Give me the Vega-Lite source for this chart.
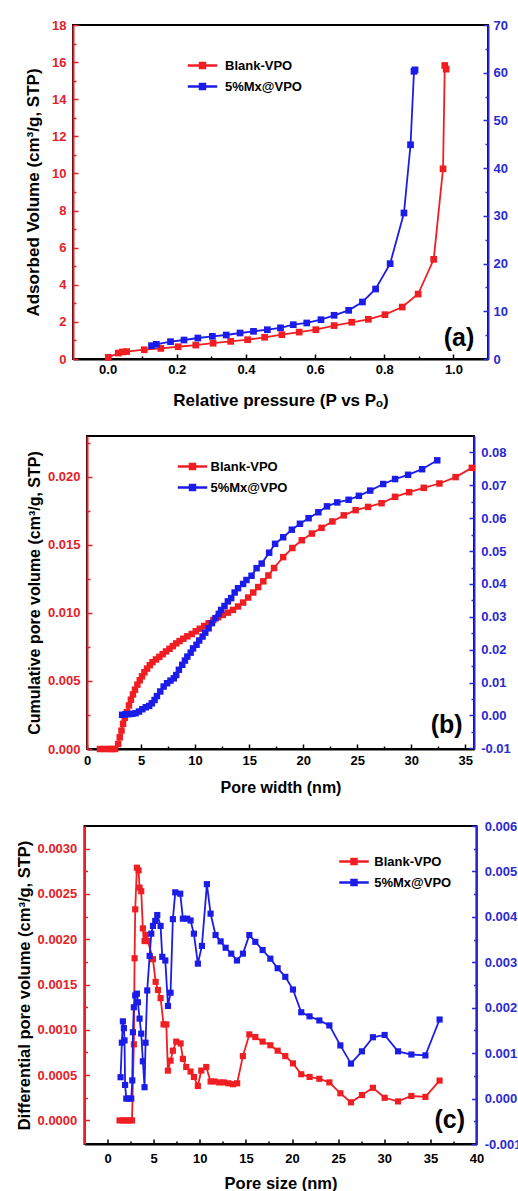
{
  "$schema": "https://vega.github.io/schema/vega-lite/v6.json",
  "padding": {"left": 15, "top": 18, "right": 0, "bottom": 0},
  "config": {
    "font": "Liberation Sans",
    "view": {"stroke": "#000", "strokeWidth": 2},
    "axis": {"grid": false, "labelFont": "Liberation Sans", "labelFontWeight": "bold", "labelFontSize": 13, "titleFont": "Liberation Sans", "titleFontWeight": "bold", "domainWidth": 2, "tickWidth": 1.5, "labelColor": "#000", "titleColor": "#000", "domainColor": "#000", "tickColor": "#000", "labelOverlap": false, "labelFlush": false},
    "legend": {"orient": "none", "title": null, "symbolType": "M-2.9,-0.2H2.9V0.2H-2.9Z M-0.7,-0.7H0.7V0.7H-0.7Z", "symbolSize": 100, "symbolStrokeWidth": 0.5, "labelFont": "Liberation Sans", "labelFontSize": 13, "labelFontWeight": "bold", "labelColor": "#000", "padding": 0, "rowPadding": 7}
  },
  "columns": 1,
  "bounds": "flush",
  "center": true,
  "spacing": 77,
  "resolve": {"scale": {"color": "independent"}, "legend": {"color": "independent"}},
  "datasets": {
    "a": [
      {"s": "Blank-VPO", "x": 0.002, "y": 0.09},
      {"s": "Blank-VPO", "x": 0.031, "y": 0.32},
      {"s": "Blank-VPO", "x": 0.043, "y": 0.38},
      {"s": "Blank-VPO", "x": 0.055, "y": 0.40},
      {"s": "Blank-VPO", "x": 0.106, "y": 0.50},
      {"s": "Blank-VPO", "x": 0.154, "y": 0.57},
      {"s": "Blank-VPO", "x": 0.204, "y": 0.66},
      {"s": "Blank-VPO", "x": 0.255, "y": 0.75},
      {"s": "Blank-VPO", "x": 0.305, "y": 0.85},
      {"s": "Blank-VPO", "x": 0.356, "y": 0.95},
      {"s": "Blank-VPO", "x": 0.405, "y": 1.04},
      {"s": "Blank-VPO", "x": 0.454, "y": 1.17},
      {"s": "Blank-VPO", "x": 0.504, "y": 1.31},
      {"s": "Blank-VPO", "x": 0.554, "y": 1.45},
      {"s": "Blank-VPO", "x": 0.602, "y": 1.58},
      {"s": "Blank-VPO", "x": 0.655, "y": 1.80},
      {"s": "Blank-VPO", "x": 0.706, "y": 1.98},
      {"s": "Blank-VPO", "x": 0.754, "y": 2.14},
      {"s": "Blank-VPO", "x": 0.802, "y": 2.39},
      {"s": "Blank-VPO", "x": 0.852, "y": 2.80},
      {"s": "Blank-VPO", "x": 0.898, "y": 3.50},
      {"s": "Blank-VPO", "x": 0.943, "y": 5.37},
      {"s": "Blank-VPO", "x": 0.970, "y": 10.25},
      {"s": "Blank-VPO", "x": 0.975, "y": 15.82},
      {"s": "Blank-VPO", "x": 0.979, "y": 15.62},
      {"s": "5%Mx@VPO", "x": 0.127, "y": 2.79},
      {"s": "5%Mx@VPO", "x": 0.141, "y": 3.08},
      {"s": "5%Mx@VPO", "x": 0.182, "y": 3.63},
      {"s": "5%Mx@VPO", "x": 0.221, "y": 3.98},
      {"s": "5%Mx@VPO", "x": 0.261, "y": 4.40},
      {"s": "5%Mx@VPO", "x": 0.303, "y": 4.75},
      {"s": "5%Mx@VPO", "x": 0.343, "y": 5.03},
      {"s": "5%Mx@VPO", "x": 0.383, "y": 5.45},
      {"s": "5%Mx@VPO", "x": 0.422, "y": 5.80},
      {"s": "5%Mx@VPO", "x": 0.462, "y": 6.14},
      {"s": "5%Mx@VPO", "x": 0.500, "y": 6.53},
      {"s": "5%Mx@VPO", "x": 0.537, "y": 7.19},
      {"s": "5%Mx@VPO", "x": 0.576, "y": 7.55},
      {"s": "5%Mx@VPO", "x": 0.617, "y": 8.24},
      {"s": "5%Mx@VPO", "x": 0.655, "y": 9.16},
      {"s": "5%Mx@VPO", "x": 0.697, "y": 10.2},
      {"s": "5%Mx@VPO", "x": 0.737, "y": 11.95},
      {"s": "5%Mx@VPO", "x": 0.775, "y": 14.67},
      {"s": "5%Mx@VPO", "x": 0.817, "y": 19.98},
      {"s": "5%Mx@VPO", "x": 0.857, "y": 30.6},
      {"s": "5%Mx@VPO", "x": 0.876, "y": 44.9},
      {"s": "5%Mx@VPO", "x": 0.886, "y": 60.3},
      {"s": "5%Mx@VPO", "x": 0.889, "y": 60.6}
    ],
    "b": [
      {"s": "Blank-VPO", "x": 1.2, "y": 0},
      {"s": "Blank-VPO", "x": 1.6, "y": 0},
      {"s": "Blank-VPO", "x": 2.0, "y": 0},
      {"s": "Blank-VPO", "x": 2.3, "y": 0},
      {"s": "Blank-VPO", "x": 2.6, "y": 0},
      {"s": "Blank-VPO", "x": 2.88, "y": 0.00037},
      {"s": "Blank-VPO", "x": 3.03, "y": 0.00086},
      {"s": "Blank-VPO", "x": 3.19, "y": 0.00135},
      {"s": "Blank-VPO", "x": 3.34, "y": 0.00185},
      {"s": "Blank-VPO", "x": 3.5, "y": 0.00229},
      {"s": "Blank-VPO", "x": 3.69, "y": 0.00271},
      {"s": "Blank-VPO", "x": 3.88, "y": 0.0032},
      {"s": "Blank-VPO", "x": 4.06, "y": 0.00362},
      {"s": "Blank-VPO", "x": 4.25, "y": 0.00401},
      {"s": "Blank-VPO", "x": 4.44, "y": 0.00436},
      {"s": "Blank-VPO", "x": 4.66, "y": 0.00473},
      {"s": "Blank-VPO", "x": 4.88, "y": 0.00505},
      {"s": "Blank-VPO", "x": 5.09, "y": 0.00534},
      {"s": "Blank-VPO", "x": 5.31, "y": 0.00564},
      {"s": "Blank-VPO", "x": 5.56, "y": 0.00591},
      {"s": "Blank-VPO", "x": 5.81, "y": 0.00616},
      {"s": "Blank-VPO", "x": 6.06, "y": 0.00638},
      {"s": "Blank-VPO", "x": 6.38, "y": 0.00658},
      {"s": "Blank-VPO", "x": 6.69, "y": 0.00677},
      {"s": "Blank-VPO", "x": 7.0, "y": 0.00697},
      {"s": "Blank-VPO", "x": 7.31, "y": 0.00717},
      {"s": "Blank-VPO", "x": 7.63, "y": 0.00736},
      {"s": "Blank-VPO", "x": 7.94, "y": 0.00756},
      {"s": "Blank-VPO", "x": 8.25, "y": 0.00776},
      {"s": "Blank-VPO", "x": 8.56, "y": 0.00793},
      {"s": "Blank-VPO", "x": 8.91, "y": 0.0081},
      {"s": "Blank-VPO", "x": 9.28, "y": 0.00828},
      {"s": "Blank-VPO", "x": 9.69, "y": 0.00845},
      {"s": "Blank-VPO", "x": 10.06, "y": 0.00865},
      {"s": "Blank-VPO", "x": 10.44, "y": 0.00884},
      {"s": "Blank-VPO", "x": 10.84, "y": 0.00904},
      {"s": "Blank-VPO", "x": 11.25, "y": 0.00924},
      {"s": "Blank-VPO", "x": 11.69, "y": 0.00948},
      {"s": "Blank-VPO", "x": 12.13, "y": 0.00968},
      {"s": "Blank-VPO", "x": 12.56, "y": 0.00985},
      {"s": "Blank-VPO", "x": 13.03, "y": 0.01002},
      {"s": "Blank-VPO", "x": 13.5, "y": 0.01022},
      {"s": "Blank-VPO", "x": 13.97, "y": 0.01047},
      {"s": "Blank-VPO", "x": 14.44, "y": 0.01076},
      {"s": "Blank-VPO", "x": 14.91, "y": 0.01113},
      {"s": "Blank-VPO", "x": 15.38, "y": 0.0115},
      {"s": "Blank-VPO", "x": 15.84, "y": 0.0119},
      {"s": "Blank-VPO", "x": 16.31, "y": 0.01232},
      {"s": "Blank-VPO", "x": 16.78, "y": 0.01275},
      {"s": "Blank-VPO", "x": 17.3, "y": 0.0133},
      {"s": "Blank-VPO", "x": 18.15, "y": 0.0141},
      {"s": "Blank-VPO", "x": 19.0, "y": 0.01477},
      {"s": "Blank-VPO", "x": 19.87, "y": 0.01534},
      {"s": "Blank-VPO", "x": 20.8, "y": 0.01583},
      {"s": "Blank-VPO", "x": 21.7, "y": 0.01625},
      {"s": "Blank-VPO", "x": 22.7, "y": 0.01672},
      {"s": "Blank-VPO", "x": 23.75, "y": 0.01717},
      {"s": "Blank-VPO", "x": 24.85, "y": 0.01755},
      {"s": "Blank-VPO", "x": 26.0, "y": 0.01779},
      {"s": "Blank-VPO", "x": 27.25, "y": 0.01806},
      {"s": "Blank-VPO", "x": 28.5, "y": 0.01853},
      {"s": "Blank-VPO", "x": 29.8, "y": 0.01887},
      {"s": "Blank-VPO", "x": 31.15, "y": 0.01919},
      {"s": "Blank-VPO", "x": 32.6, "y": 0.01951},
      {"s": "Blank-VPO", "x": 34.1, "y": 0.01998},
      {"s": "Blank-VPO", "x": 35.6, "y": 0.02066},
      {"s": "5%Mx@VPO", "x": 3.25, "y": 0.0002},
      {"s": "5%Mx@VPO", "x": 3.56, "y": 0.0004},
      {"s": "5%Mx@VPO", "x": 3.88, "y": 0.0004},
      {"s": "5%Mx@VPO", "x": 4.19, "y": 0.0005},
      {"s": "5%Mx@VPO", "x": 4.5, "y": 0.0007},
      {"s": "5%Mx@VPO", "x": 4.81, "y": 0.0012},
      {"s": "5%Mx@VPO", "x": 5.12, "y": 0.0019},
      {"s": "5%Mx@VPO", "x": 5.44, "y": 0.0025},
      {"s": "5%Mx@VPO", "x": 5.75, "y": 0.0029},
      {"s": "5%Mx@VPO", "x": 6.0, "y": 0.0037},
      {"s": "5%Mx@VPO", "x": 6.25, "y": 0.0047},
      {"s": "5%Mx@VPO", "x": 6.47, "y": 0.0059},
      {"s": "5%Mx@VPO", "x": 6.78, "y": 0.0073},
      {"s": "5%Mx@VPO", "x": 7.09, "y": 0.0088},
      {"s": "5%Mx@VPO", "x": 7.41, "y": 0.0098},
      {"s": "5%Mx@VPO", "x": 7.72, "y": 0.0106},
      {"s": "5%Mx@VPO", "x": 8.03, "y": 0.0113},
      {"s": "5%Mx@VPO", "x": 8.25, "y": 0.0123},
      {"s": "5%Mx@VPO", "x": 8.5, "y": 0.0139},
      {"s": "5%Mx@VPO", "x": 8.81, "y": 0.0154},
      {"s": "5%Mx@VPO", "x": 9.06, "y": 0.0167},
      {"s": "5%Mx@VPO", "x": 9.28, "y": 0.0179},
      {"s": "5%Mx@VPO", "x": 9.59, "y": 0.0191},
      {"s": "5%Mx@VPO", "x": 9.81, "y": 0.0204},
      {"s": "5%Mx@VPO", "x": 10.13, "y": 0.0215},
      {"s": "5%Mx@VPO", "x": 10.38, "y": 0.0228},
      {"s": "5%Mx@VPO", "x": 10.69, "y": 0.024},
      {"s": "5%Mx@VPO", "x": 10.94, "y": 0.0252},
      {"s": "5%Mx@VPO", "x": 11.25, "y": 0.0265},
      {"s": "5%Mx@VPO", "x": 11.56, "y": 0.0281},
      {"s": "5%Mx@VPO", "x": 11.88, "y": 0.0296},
      {"s": "5%Mx@VPO", "x": 12.19, "y": 0.0309},
      {"s": "5%Mx@VPO", "x": 12.41, "y": 0.0321},
      {"s": "5%Mx@VPO", "x": 12.72, "y": 0.0333},
      {"s": "5%Mx@VPO", "x": 13.03, "y": 0.0347},
      {"s": "5%Mx@VPO", "x": 13.34, "y": 0.0357},
      {"s": "5%Mx@VPO", "x": 13.66, "y": 0.0374},
      {"s": "5%Mx@VPO", "x": 13.97, "y": 0.0387},
      {"s": "5%Mx@VPO", "x": 14.44, "y": 0.04},
      {"s": "5%Mx@VPO", "x": 14.75, "y": 0.0412},
      {"s": "5%Mx@VPO", "x": 15.22, "y": 0.0425},
      {"s": "5%Mx@VPO", "x": 15.69, "y": 0.0448},
      {"s": "5%Mx@VPO", "x": 16.16, "y": 0.0462},
      {"s": "5%Mx@VPO", "x": 16.85, "y": 0.0495},
      {"s": "5%Mx@VPO", "x": 17.4, "y": 0.0522},
      {"s": "5%Mx@VPO", "x": 18.15, "y": 0.0542},
      {"s": "5%Mx@VPO", "x": 18.95, "y": 0.0565},
      {"s": "5%Mx@VPO", "x": 19.7, "y": 0.0583},
      {"s": "5%Mx@VPO", "x": 20.5, "y": 0.06},
      {"s": "5%Mx@VPO", "x": 21.4, "y": 0.0618},
      {"s": "5%Mx@VPO", "x": 22.2, "y": 0.0636},
      {"s": "5%Mx@VPO", "x": 23.15, "y": 0.0648},
      {"s": "5%Mx@VPO", "x": 24.2, "y": 0.0656},
      {"s": "5%Mx@VPO", "x": 25.15, "y": 0.0668},
      {"s": "5%Mx@VPO", "x": 26.2, "y": 0.0684},
      {"s": "5%Mx@VPO", "x": 27.4, "y": 0.0704},
      {"s": "5%Mx@VPO", "x": 28.5, "y": 0.0719},
      {"s": "5%Mx@VPO", "x": 29.7, "y": 0.0732},
      {"s": "5%Mx@VPO", "x": 31.0, "y": 0.0749},
      {"s": "5%Mx@VPO", "x": 32.4, "y": 0.0776}
    ],
    "c": [
      {"s": "Blank-VPO", "x": 1.3, "y": 0},
      {"s": "Blank-VPO", "x": 1.65, "y": 0},
      {"s": "Blank-VPO", "x": 2.0, "y": 0},
      {"s": "Blank-VPO", "x": 2.35, "y": 0},
      {"s": "Blank-VPO", "x": 2.65, "y": 0},
      {"s": "Blank-VPO", "x": 2.85, "y": 0.00084},
      {"s": "Blank-VPO", "x": 2.93, "y": 0.00179},
      {"s": "Blank-VPO", "x": 3.0, "y": 0.00233},
      {"s": "Blank-VPO", "x": 3.18, "y": 0.00279},
      {"s": "Blank-VPO", "x": 3.36, "y": 0.00276},
      {"s": "Blank-VPO", "x": 3.47, "y": 0.00257},
      {"s": "Blank-VPO", "x": 3.65, "y": 0.00253},
      {"s": "Blank-VPO", "x": 3.83, "y": 0.00212},
      {"s": "Blank-VPO", "x": 4.01, "y": 0.00198},
      {"s": "Blank-VPO", "x": 4.12, "y": 0.00205},
      {"s": "Blank-VPO", "x": 4.37, "y": 0.00198},
      {"s": "Blank-VPO", "x": 4.92, "y": 0.00178},
      {"s": "Blank-VPO", "x": 5.21, "y": 0.00153},
      {"s": "Blank-VPO", "x": 5.46, "y": 0.00144},
      {"s": "Blank-VPO", "x": 5.75, "y": 0.00135},
      {"s": "Blank-VPO", "x": 6.07, "y": 0.00106},
      {"s": "Blank-VPO", "x": 6.37, "y": 0.00106},
      {"s": "Blank-VPO", "x": 6.54, "y": 0.00055},
      {"s": "Blank-VPO", "x": 6.83, "y": 0.00066},
      {"s": "Blank-VPO", "x": 7.08, "y": 0.00077},
      {"s": "Blank-VPO", "x": 7.45, "y": 0.00087},
      {"s": "Blank-VPO", "x": 7.92, "y": 0.00085},
      {"s": "Blank-VPO", "x": 8.17, "y": 0.00068},
      {"s": "Blank-VPO", "x": 8.53, "y": 0.00059},
      {"s": "Blank-VPO", "x": 9.0, "y": 0.00054},
      {"s": "Blank-VPO", "x": 9.36, "y": 0.00048},
      {"s": "Blank-VPO", "x": 9.79, "y": 0.00038},
      {"s": "Blank-VPO", "x": 10.16, "y": 0.00055},
      {"s": "Blank-VPO", "x": 10.7, "y": 0.00059},
      {"s": "Blank-VPO", "x": 11.17, "y": 0.00043},
      {"s": "Blank-VPO", "x": 11.6, "y": 0.00043},
      {"s": "Blank-VPO", "x": 12.1, "y": 0.00042},
      {"s": "Blank-VPO", "x": 12.6, "y": 0.00042},
      {"s": "Blank-VPO", "x": 13.1, "y": 0.00041},
      {"s": "Blank-VPO", "x": 13.6, "y": 0.0004},
      {"s": "Blank-VPO", "x": 14.05, "y": 0.00041},
      {"s": "Blank-VPO", "x": 14.67, "y": 0.00071},
      {"s": "Blank-VPO", "x": 15.37, "y": 0.00095},
      {"s": "Blank-VPO", "x": 16.02, "y": 0.00092},
      {"s": "Blank-VPO", "x": 16.81, "y": 0.00087},
      {"s": "Blank-VPO", "x": 17.65, "y": 0.00083},
      {"s": "Blank-VPO", "x": 18.44, "y": 0.00077},
      {"s": "Blank-VPO", "x": 19.27, "y": 0.00071},
      {"s": "Blank-VPO", "x": 20.1, "y": 0.00063},
      {"s": "Blank-VPO", "x": 21.0, "y": 0.00051},
      {"s": "Blank-VPO", "x": 21.9, "y": 0.00048},
      {"s": "Blank-VPO", "x": 22.96, "y": 0.00046},
      {"s": "Blank-VPO", "x": 24.05, "y": 0.00042},
      {"s": "Blank-VPO", "x": 25.24, "y": 0.0003},
      {"s": "Blank-VPO", "x": 26.39, "y": 0.0002},
      {"s": "Blank-VPO", "x": 27.58, "y": 0.00028},
      {"s": "Blank-VPO", "x": 28.77, "y": 0.00036},
      {"s": "Blank-VPO", "x": 30.04, "y": 0.00025},
      {"s": "Blank-VPO", "x": 31.49, "y": 0.00021},
      {"s": "Blank-VPO", "x": 32.94, "y": 0.00027},
      {"s": "Blank-VPO", "x": 34.46, "y": 0.00026},
      {"s": "Blank-VPO", "x": 36.0, "y": 0.00044},
      {"s": "5%Mx@VPO", "x": 1.41, "y": 0.00047},
      {"s": "5%Mx@VPO", "x": 1.55, "y": 0.00123},
      {"s": "5%Mx@VPO", "x": 1.66, "y": 0.0017},
      {"s": "5%Mx@VPO", "x": 1.77, "y": 0.00155},
      {"s": "5%Mx@VPO", "x": 1.84, "y": 0.00128},
      {"s": "5%Mx@VPO", "x": 1.9, "y": 0.0003},
      {"s": "5%Mx@VPO", "x": 2.03, "y": 0.0},
      {"s": "5%Mx@VPO", "x": 2.28, "y": 0.0},
      {"s": "5%Mx@VPO", "x": 2.57, "y": 0.0},
      {"s": "5%Mx@VPO", "x": 2.68, "y": 0.0004},
      {"s": "5%Mx@VPO", "x": 2.75, "y": 0.00146},
      {"s": "5%Mx@VPO", "x": 2.85, "y": 0.00201},
      {"s": "5%Mx@VPO", "x": 3.0, "y": 0.00227},
      {"s": "5%Mx@VPO", "x": 3.18, "y": 0.00231},
      {"s": "5%Mx@VPO", "x": 3.29, "y": 0.00212},
      {"s": "5%Mx@VPO", "x": 3.47, "y": 0.00176},
      {"s": "5%Mx@VPO", "x": 3.65, "y": 0.00143},
      {"s": "5%Mx@VPO", "x": 3.83, "y": 0.00082},
      {"s": "5%Mx@VPO", "x": 4.01, "y": 0.00025},
      {"s": "5%Mx@VPO", "x": 4.12, "y": 0.00123},
      {"s": "5%Mx@VPO", "x": 4.3, "y": 0.00238},
      {"s": "5%Mx@VPO", "x": 4.56, "y": 0.00314},
      {"s": "5%Mx@VPO", "x": 4.74, "y": 0.00363},
      {"s": "5%Mx@VPO", "x": 4.92, "y": 0.0038},
      {"s": "5%Mx@VPO", "x": 5.17, "y": 0.00391},
      {"s": "5%Mx@VPO", "x": 5.39, "y": 0.00404},
      {"s": "5%Mx@VPO", "x": 5.75, "y": 0.0038},
      {"s": "5%Mx@VPO", "x": 5.93, "y": 0.00312},
      {"s": "5%Mx@VPO", "x": 6.26, "y": 0.00304},
      {"s": "5%Mx@VPO", "x": 6.55, "y": 0.00204},
      {"s": "5%Mx@VPO", "x": 6.83, "y": 0.00233},
      {"s": "5%Mx@VPO", "x": 7.08, "y": 0.00395},
      {"s": "5%Mx@VPO", "x": 7.34, "y": 0.00454},
      {"s": "5%Mx@VPO", "x": 7.88, "y": 0.00451},
      {"s": "5%Mx@VPO", "x": 8.17, "y": 0.00396},
      {"s": "5%Mx@VPO", "x": 8.64, "y": 0.00396},
      {"s": "5%Mx@VPO", "x": 9.0, "y": 0.00392},
      {"s": "5%Mx@VPO", "x": 9.36, "y": 0.00363},
      {"s": "5%Mx@VPO", "x": 9.79, "y": 0.00297},
      {"s": "5%Mx@VPO", "x": 10.23, "y": 0.00336},
      {"s": "5%Mx@VPO", "x": 10.77, "y": 0.00472},
      {"s": "5%Mx@VPO", "x": 11.17, "y": 0.00407},
      {"s": "5%Mx@VPO", "x": 11.71, "y": 0.0036},
      {"s": "5%Mx@VPO", "x": 12.26, "y": 0.00346},
      {"s": "5%Mx@VPO", "x": 12.8, "y": 0.00332},
      {"s": "5%Mx@VPO", "x": 13.41, "y": 0.00319},
      {"s": "5%Mx@VPO", "x": 14.03, "y": 0.00304},
      {"s": "5%Mx@VPO", "x": 14.68, "y": 0.00319},
      {"s": "5%Mx@VPO", "x": 15.37, "y": 0.0036},
      {"s": "5%Mx@VPO", "x": 16.02, "y": 0.00345},
      {"s": "5%Mx@VPO", "x": 16.81, "y": 0.00327},
      {"s": "5%Mx@VPO", "x": 17.65, "y": 0.00308},
      {"s": "5%Mx@VPO", "x": 18.44, "y": 0.00287},
      {"s": "5%Mx@VPO", "x": 19.27, "y": 0.00268},
      {"s": "5%Mx@VPO", "x": 20.1, "y": 0.0024},
      {"s": "5%Mx@VPO", "x": 21.0, "y": 0.0019},
      {"s": "5%Mx@VPO", "x": 21.9, "y": 0.00181},
      {"s": "5%Mx@VPO", "x": 22.96, "y": 0.00172},
      {"s": "5%Mx@VPO", "x": 24.05, "y": 0.00161},
      {"s": "5%Mx@VPO", "x": 25.24, "y": 0.00117},
      {"s": "5%Mx@VPO", "x": 26.39, "y": 0.00077},
      {"s": "5%Mx@VPO", "x": 27.58, "y": 0.00104},
      {"s": "5%Mx@VPO", "x": 28.77, "y": 0.00135},
      {"s": "5%Mx@VPO", "x": 30.04, "y": 0.0014},
      {"s": "5%Mx@VPO", "x": 31.49, "y": 0.00104},
      {"s": "5%Mx@VPO", "x": 32.94, "y": 0.00097},
      {"s": "5%Mx@VPO", "x": 34.46, "y": 0.00095},
      {"s": "5%Mx@VPO", "x": 36.0, "y": 0.00174}
    ]
  },
  "concat": [
    {
      "width": 415, "height": 334,
      "data": {"name": "a"},
      "layer": [
        {"layer": [
          {
            "transform": [{"filter": "datum.s == 'Blank-VPO'"}],
            "mark": {"type": "line", "strokeWidth": 1.8, "point": {"shape": "square", "filled": true, "size": 45, "opacity": 1}},
            "encoding": {
              "x": {"field": "x", "type": "quantitative", "scale": {"domain": [-0.1, 1.1], "nice": false, "zero": false},
                "axis": {"title": "Relative pressure (P vs Pₒ)", "values": [0, 0.1, 0.2, 0.3, 0.4, 0.5, 0.6, 0.7, 0.8, 0.9, 1.0], "tickCount": 100, "labelExpr": "round(datum.value*10) % 2 == 0 ? format(datum.value, '.1f') : ''", "tickSize": {"condition": {"test": "round(datum.value*10) % 2 == 0", "value": -5}, "value": -3}, "labelPadding": 9, "labelOverlap": false, "titleFontSize": 17, "titlePadding": 14}},
              "y": {"field": "y", "type": "quantitative", "scale": {"domain": [0, 18], "nice": false, "zero": false},
                "axis": {"orient": "left", "title": "Adsorbed Volume (cm³/g, STP)", "values": [0, 1, 2, 3, 4, 5, 6, 7, 8, 9, 10, 11, 12, 13, 14, 15, 16, 17, 18], "tickCount": 100, "labelExpr": "abs(datum.value/2 - round(datum.value/2)) < 0.01 ? format(datum.value, '.0f') : ''", "tickSize": {"condition": {"test": "abs(datum.value/2 - round(datum.value/2)) < 0.01", "value": -5}, "value": -3}, "labelPadding": 12, "labelOverlap": false, "labelColor": "#e62028", "domainColor": "#e62028", "tickColor": "#e62028", "titleFontSize": 17, "titlePadding": 9.3}},
              "color": {"field": "s", "type": "nominal", "scale": {"domain": ["Blank-VPO", "5%Mx@VPO"], "range": ["#f01e23", "#1c1ce8"]},
                "legend": {"legendX": 123, "legendY": 34, "labelOffset": 16}}
            }
          },
          {
            "data": {"values": [{"t": "(a)"}]},
            "mark": {"type": "text", "font": "Liberation Sans", "fontSize": 25, "fontWeight": "bold", "align": "center", "baseline": "middle", "color": "#000"},
            "encoding": {
              "x": {"datum": 1.016, "type": "quantitative"},
              "y": {"datum": 1.13, "type": "quantitative"},
              "text": {"field": "t"}
            }
          }
        ]},
        {
          "transform": [{"filter": "datum.s == '5%Mx@VPO'"}],
          "mark": {"type": "line", "strokeWidth": 1.8, "point": {"shape": "square", "filled": true, "size": 45, "opacity": 1}},
          "encoding": {
            "x": {"field": "x", "type": "quantitative"},
            "y": {"field": "y", "type": "quantitative", "scale": {"domain": [0, 70], "nice": false, "zero": false},
              "axis": {"orient": "right", "title": null, "values": [0, 5, 10, 15, 20, 25, 30, 35, 40, 45, 50, 55, 60, 65, 70], "tickCount": 100, "labelExpr": "datum.value % 10 == 0 ? format(datum.value, 'd') : ''", "tickSize": {"condition": {"test": "datum.value % 10 == 0", "value": -5}, "value": -3}, "labelPadding": 10, "labelOverlap": false, "labelColor": "#2a2ad2", "domainColor": "#2a2ad2", "tickColor": "#2a2ad2"}},
            "color": {"field": "s", "type": "nominal", "scale": {"domain": ["Blank-VPO", "5%Mx@VPO"], "range": ["#f01e23", "#1c1ce8"]}}
          }
        }
      ],
      "resolve": {"scale": {"y": "independent"}}
    },
    {
      "width": 387, "height": 313,
      "data": {"name": "b"},
      "layer": [
        {"layer": [
          {
            "transform": [{"filter": "datum.s == 'Blank-VPO'"}],
            "mark": {"type": "line", "strokeWidth": 1.8, "point": {"shape": "square", "filled": true, "size": 42, "opacity": 1}},
            "encoding": {
              "x": {"field": "x", "type": "quantitative", "scale": {"domain": [0, 35.8], "nice": false, "zero": false},
                "axis": {"title": "Pore width (nm)", "values": [0, 2.5, 5, 7.5, 10, 12.5, 15, 17.5, 20, 22.5, 25, 27.5, 30, 32.5, 35], "tickCount": 100, "labelExpr": "datum.value % 5 == 0 ? format(datum.value, 'd') : ''", "tickSize": {"condition": {"test": "datum.value % 5 == 0", "value": -5}, "value": -3}, "labelPadding": 10.5, "labelOverlap": false, "titleFontSize": 16, "titlePadding": 10}},
              "y": {"field": "y", "type": "quantitative", "scale": {"domain": [0, 0.023], "nice": false, "zero": false},
                "axis": {"orient": "left", "title": "Cumulative pore volume (cm³/g, STP)", "values": [0, 0.0025, 0.005, 0.0075, 0.01, 0.0125, 0.015, 0.0175, 0.02, 0.0225], "tickCount": 100, "labelExpr": "abs(datum.value*200 - round(datum.value*200)) < 0.01 ? format(datum.value, '.3f') : ''", "tickSize": {"condition": {"test": "abs(datum.value*200 - round(datum.value*200)) < 0.01", "value": -5}, "value": -3}, "labelPadding": 12, "labelOverlap": false, "labelColor": "#e62028", "domainColor": "#e62028", "tickColor": "#e62028", "titleFontSize": 16, "titlePadding": 5}},
              "color": {"field": "s", "type": "nominal", "scale": {"domain": ["Blank-VPO", "5%Mx@VPO"], "range": ["#f01e23", "#1c1ce8"]},
                "legend": {"legendX": 99, "legendY": 24, "labelOffset": 11.5}}
            }
          },
          {
            "data": {"values": [{"t": "(b)"}]},
            "mark": {"type": "text", "font": "Liberation Sans", "fontSize": 25, "fontWeight": "bold", "align": "center", "baseline": "middle", "color": "#000"},
            "encoding": {
              "x": {"datum": 33.27, "type": "quantitative"},
              "y": {"datum": 0.00177, "type": "quantitative"},
              "text": {"field": "t"}
            }
          }
        ]},
        {
          "transform": [{"filter": "datum.s == '5%Mx@VPO'"}],
          "mark": {"type": "line", "strokeWidth": 1.8, "point": {"shape": "square", "filled": true, "size": 42, "opacity": 1}},
          "encoding": {
            "x": {"field": "x", "type": "quantitative"},
            "y": {"field": "y", "type": "quantitative", "scale": {"domain": [-0.0102, 0.085], "nice": false, "zero": false},
              "axis": {"orient": "right", "title": null, "values": [-0.01, -0.005, 0, 0.005, 0.01, 0.015, 0.02, 0.025, 0.03, 0.035, 0.04, 0.045, 0.05, 0.055, 0.06, 0.065, 0.07, 0.075, 0.08], "tickCount": 100, "labelExpr": "abs(datum.value*100 - round(datum.value*100)) < 0.01 ? replace(format(datum.value, '.2f'), '−', '-') : ''", "tickSize": {"condition": {"test": "abs(datum.value*100 - round(datum.value*100)) < 0.01", "value": -5}, "value": -3}, "labelPadding": 11.7, "labelOverlap": false, "labelColor": "#2a2ad2", "domainColor": "#2a2ad2", "tickColor": "#2a2ad2"}},
            "color": {"field": "s", "type": "nominal", "scale": {"domain": ["Blank-VPO", "5%Mx@VPO"], "range": ["#f01e23", "#1c1ce8"]}}
          }
        }
      ],
      "resolve": {"scale": {"y": "independent"}}
    },
    {
      "width": 392, "height": 318,
      "data": {"name": "c"},
      "layer": [
        {"layer": [
          {
            "transform": [{"filter": "datum.s == 'Blank-VPO'"}],
            "mark": {"type": "line", "strokeWidth": 1.8, "point": {"shape": "square", "filled": true, "size": 38, "opacity": 1}},
            "encoding": {
              "x": {"field": "x", "type": "quantitative", "scale": {"domain": [-2.5, 40], "nice": false, "zero": false},
                "axis": {"title": "Pore size (nm)", "values": [0, 2.5, 5, 7.5, 10, 12.5, 15, 17.5, 20, 22.5, 25, 27.5, 30, 32.5, 35, 37.5, 40], "tickCount": 100, "labelExpr": "datum.value % 5 == 0 ? format(datum.value, 'd') : ''", "tickSize": {"condition": {"test": "datum.value % 5 == 0", "value": -5}, "value": -3}, "labelPadding": 13, "labelOverlap": false, "titleFontSize": 16.5, "titlePadding": 8}},
              "y": {"field": "y", "type": "quantitative", "scale": {"domain": [-0.00026, 0.00325], "nice": false, "zero": false},
                "axis": {"orient": "left", "title": "Differential pore volume (cm³/g, STP)", "values": [0, 0.00025, 0.0005, 0.00075, 0.001, 0.00125, 0.0015, 0.00175, 0.002, 0.00225, 0.0025, 0.00275, 0.003], "tickCount": 100, "labelExpr": "abs(datum.value*2000 - round(datum.value*2000)) < 0.01 ? format(datum.value, '.4f') : ''", "tickSize": {"condition": {"test": "abs(datum.value*2000 - round(datum.value*2000)) < 0.01", "value": -5}, "value": -3}, "labelPadding": 12.7, "labelOverlap": false, "labelColor": "#e62028", "domainColor": "#e62028", "tickColor": "#e62028", "titleFontSize": 16.5, "titlePadding": 5}},
              "color": {"field": "s", "type": "nominal", "scale": {"domain": ["Blank-VPO", "5%Mx@VPO"], "range": ["#f01e23", "#1c1ce8"]},
                "legend": {"legendX": 263, "legendY": 29, "labelOffset": 13.75}}
            }
          },
          {
            "data": {"values": [{"t": "(c)"}]},
            "mark": {"type": "text", "font": "Liberation Sans", "fontSize": 25, "fontWeight": "bold", "align": "center", "baseline": "middle", "color": "#000"},
            "encoding": {
              "x": {"datum": 37.1, "type": "quantitative"},
              "y": {"datum": 0.00001, "type": "quantitative"},
              "text": {"field": "t"}
            }
          }
        ]},
        {
          "transform": [{"filter": "datum.s == '5%Mx@VPO'"}],
          "mark": {"type": "line", "strokeWidth": 1.8, "point": {"shape": "square", "filled": true, "size": 38, "opacity": 1}},
          "encoding": {
            "x": {"field": "x", "type": "quantitative"},
            "y": {"field": "y", "type": "quantitative", "scale": {"domain": [-0.001, 0.006], "nice": false, "zero": false},
              "axis": {"orient": "right", "title": null, "values": [-0.001, -0.0005, 0, 0.0005, 0.001, 0.0015, 0.002, 0.0025, 0.003, 0.0035, 0.004, 0.0045, 0.005, 0.0055, 0.006], "tickCount": 100, "labelExpr": "abs(datum.value*1000 - round(datum.value*1000)) < 0.01 ? replace(format(datum.value, '.3f'), '−', '-') : ''", "tickSize": {"condition": {"test": "abs(datum.value*1000 - round(datum.value*1000)) < 0.01", "value": -5}, "value": -3}, "labelPadding": 12.7, "labelOverlap": false, "labelColor": "#2a2ad2", "domainColor": "#2a2ad2", "tickColor": "#2a2ad2"}},
            "color": {"field": "s", "type": "nominal", "scale": {"domain": ["Blank-VPO", "5%Mx@VPO"], "range": ["#f01e23", "#1c1ce8"]}}
          }
        }
      ],
      "resolve": {"scale": {"y": "independent"}}
    }
  ]
}
